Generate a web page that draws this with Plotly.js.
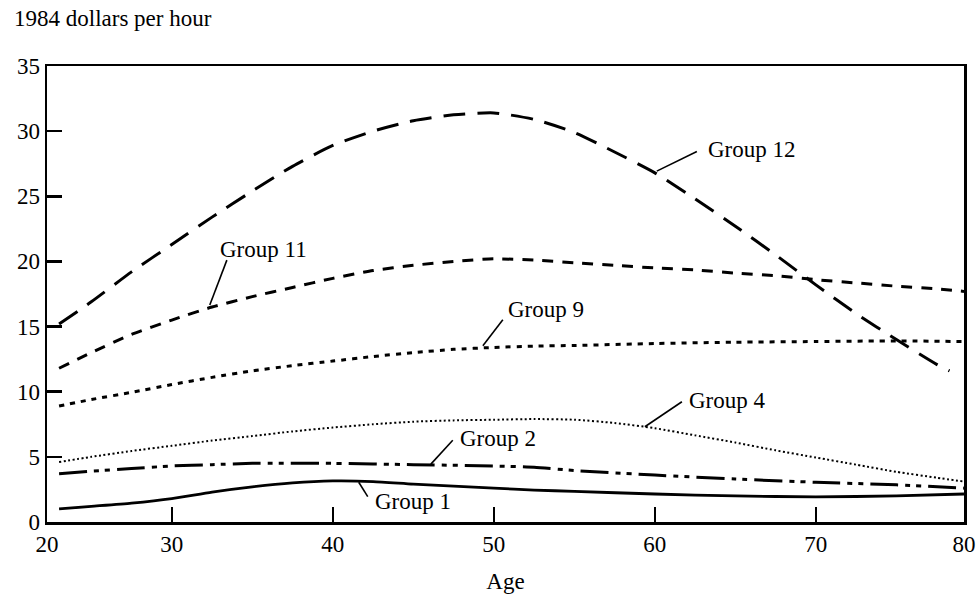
<!DOCTYPE html>
<html>
<head>
<meta charset="utf-8">
<script src="https://cdn.plot.ly/plotly-3.0.1.min.js"></script>
<style>html,body{margin:0;padding:0;background:#fff;}#chart{width:976px;height:602px;}</style>
</head>
<body>
<div id="chart"></div>
<script>
// Age (years) and hourly wage (1984 dollars)
const ages12 = [23, 25, 27.5, 30, 32.5, 35, 37.5, 40, 42.5, 45, 47.5, 50, 52.5, 55, 57.5, 60, 62.5, 65, 67.5, 70, 72.5, 75, 77.5, 78.3];
const group12 = [15.2, 16.9, 19.2, 21.3, 23.4, 25.4, 27.3, 28.9, 30.0, 30.8, 31.25, 31.4, 30.9, 29.9, 28.4, 26.8, 24.8, 22.7, 20.5, 18.2, 16.0, 14.0, 12.1, 11.6];

const ages11 = [23, 25, 27.5, 30, 32.5, 35, 37.5, 40, 42.5, 45, 47.5, 50, 52.5, 55, 57.5, 60, 62.5, 65, 67.5, 70, 72.5, 75, 77.5, 79.2];
const group11 = [11.8, 13.0, 14.4, 15.5, 16.5, 17.3, 18.0, 18.7, 19.3, 19.7, 20.0, 20.2, 20.1, 19.9, 19.7, 19.5, 19.35, 19.1, 18.9, 18.6, 18.35, 18.1, 17.9, 17.7];

const ages9 = [23, 25, 27.5, 30, 32.5, 35, 37.5, 40, 42.5, 45, 47.5, 50, 52.5, 55, 60, 65, 70, 75, 79.2];
const group9 = [8.9, 9.4, 9.95, 10.55, 11.1, 11.6, 12.0, 12.35, 12.7, 13.0, 13.25, 13.4, 13.5, 13.55, 13.7, 13.8, 13.85, 13.9, 13.85];

const ages4 = [23, 25, 27.5, 30, 32.5, 35, 37.5, 40, 42.5, 45, 47.5, 50, 52.5, 55, 57.5, 60, 62.5, 65, 67.5, 70, 72.5, 75, 77.5, 79.2];
const group4 = [4.6, 5.0, 5.45, 5.85, 6.25, 6.6, 6.95, 7.25, 7.5, 7.7, 7.8, 7.85, 7.9, 7.85, 7.6, 7.2, 6.65, 6.1, 5.5, 4.95, 4.4, 3.85, 3.4, 3.1];

const ages2 = [23, 25, 27.5, 30, 32.5, 35, 40, 45, 50, 52.5, 55, 60, 65, 70, 75, 79.2];
const group2 = [3.7, 3.9, 4.1, 4.3, 4.4, 4.5, 4.5, 4.4, 4.3, 4.2, 3.95, 3.6, 3.3, 3.05, 2.85, 2.6];

const ages1 = [23, 25, 27.5, 30, 32.5, 35, 37.5, 40, 42.5, 45, 47.5, 50, 52.5, 55, 60, 65, 70, 75, 79.2];
const group1 = [1.0, 1.2, 1.45, 1.8, 2.3, 2.7, 3.0, 3.15, 3.1, 2.9, 2.75, 2.6, 2.45, 2.35, 2.15, 2.0, 1.93, 2.0, 2.15];

const seriesNames = ["Group 12", "Group 11", "Group 9", "Group 4", "Group 2", "Group 1"];

const xTickVals = [22.25, 30, 40, 50, 60, 70, 79.2];
const xTickText = ["20", "30", "40", "50", "60", "70", "80"];
const yTickVals = [0, 5, 10, 15, 20, 25, 30, 35];
const yTickText = ["0", "5", "10", "15", "20", "25", "30", "35"];

// label placement: [textX, textY, lineStartX, lineStartY, lineEndX, lineEndY]
const labelPos = [
  [63.17, 28.6, 62.61, 28.44, 60.12, 26.93],
  [32.86, 20.94, 33.42, 20.10, 32.36, 16.66],
  [50.75, 16.28, 50.56, 15.52, 49.32, 13.52],
  [61.99, 9.31, 61.68, 9.23, 59.38, 7.31],
  [47.76, 6.43, 47.45, 6.28, 46.09, 4.44],
  [42.48, 1.56, 42.17, 1.95, 41.61, 3.05]
];

const styles = [
  {dash: "22px,12px", width: 3},
  {dash: "11px,9px", width: 3},
  {dash: "5px,6px", width: 3},
  {dash: "2px,2.5px", width: 2},
  {dash: "28px,7px,5px,6px,5px,7px", width: 3},
  {dash: "solid", width: 2.8}
];

const xs = [ages12, ages11, ages9, ages4, ages2, ages1];
const ys = [group12, group11, group9, group4, group2, group1];

const traces = xs.map((x, i) => ({
  x: x, y: ys[i], name: seriesNames[i], type: "scatter", mode: "lines",
  line: {color: "#000", width: styles[i].width, dash: styles[i].dash, shape: "spline", smoothing: 0.6},
  hoverinfo: "x+y+name"
}));

const xMin = xTickVals[0], xMax = xTickVals[xTickVals.length - 1];
const FONT = "Liberation Serif, Times New Roman, serif";

const annotations = seriesNames.map((n, i) => ({
  x: labelPos[i][0], y: labelPos[i][1], xref: "x", yref: "y",
  text: n, showarrow: false, xanchor: "left", yanchor: "middle",
  font: {family: FONT, size: 23, color: "#000"}
}));
annotations.push({
  x: -0.038, y: 1.105, xref: "paper", yref: "paper",
  text: "1984 dollars per hour", showarrow: false, xanchor: "left", yanchor: "middle",
  font: {family: FONT, size: 23, color: "#000"}
});

// leader lines for the labels
const shapes = labelPos.map(p => ({
  type: "line", xref: "x", yref: "y", x0: p[2], y0: p[3], x1: p[4], y1: p[5],
  line: {color: "#000", width: 1.6}
}));

const layout = {
  width: 976, height: 602,
  margin: {l: 47, r: 12, t: 66, b: 80},
  paper_bgcolor: "#fff", plot_bgcolor: "#fff",
  showlegend: false,
  font: {family: FONT, size: 23, color: "#000"},
  xaxis: {
    range: [xMin, xMax], tickmode: "array", tickvals: xTickVals, ticktext: xTickText,
    ticks: "inside", ticklen: 15, tickwidth: 2.2, tickcolor: "#000",
    showline: true, linecolor: "#000", linewidth: 2.5, mirror: true,
    showgrid: false, zeroline: false,
    title: {text: "Age", font: {family: FONT, size: 23, color: "#000"}, standoff: 17}
  },
  yaxis: {
    range: [0, 35], tickmode: "array", tickvals: yTickVals, ticktext: yTickText,
    ticks: "inside", ticklen: 15, tickwidth: 2.5, tickcolor: "#000",
    showline: true, linecolor: "#000", linewidth: 2.5, mirror: true,
    showgrid: false, zeroline: false
  },
  annotations: annotations,
  shapes: shapes
};

Plotly.newPlot("chart", traces, layout, {displayModeBar: false, staticPlot: true});
</script>
</body>
</html>
